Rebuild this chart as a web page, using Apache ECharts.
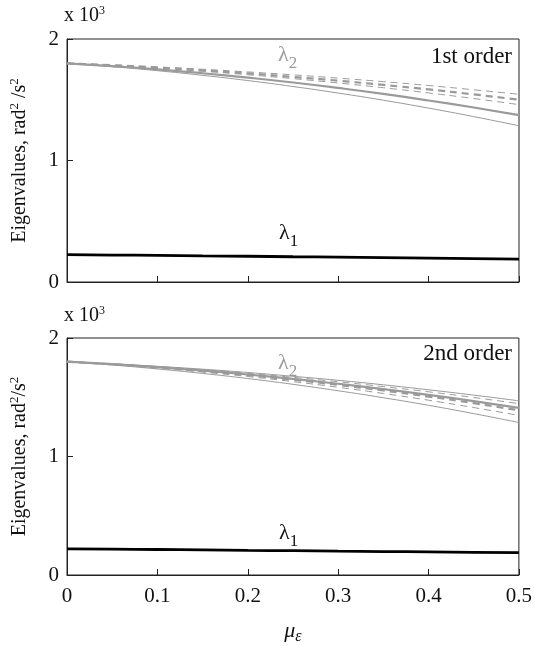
<!DOCTYPE html>
<html><head><meta charset="utf-8">
<script src="https://cdn.jsdelivr.net/npm/echarts@6/dist/echarts.min.js"></script>
<style>html,body{margin:0;padding:0;background:#fff}#c{width:535px;height:646px}</style>
</head><body><div id="c"></div>
<script>
// x values (mu_epsilon)
var mu = [0, 0.05, 0.1, 0.15, 0.2, 0.25, 0.3, 0.35, 0.4, 0.45, 0.5];
var xTicks = [0, 0.1, 0.2, 0.3, 0.4, 0.5];
var yTicks = [0, 1, 2]; // x 10^3

// 1st order panel (values in 10^3 rad^2/s^2)
var top_l2_thinDashA  = [1.80, 1.786, 1.770, 1.751, 1.729, 1.705, 1.678, 1.649, 1.617, 1.582, 1.545];
var top_l2_thickDash  = [1.80, 1.784, 1.765, 1.742, 1.717, 1.688, 1.657, 1.622, 1.585, 1.544, 1.500];
var top_l2_thinDashB  = [1.80, 1.782, 1.760, 1.735, 1.706, 1.674, 1.638, 1.599, 1.556, 1.510, 1.460];
var top_l2_thickSolid = [1.80, 1.777, 1.750, 1.718, 1.682, 1.642, 1.597, 1.548, 1.494, 1.436, 1.374];
var top_l2_thinSolid  = [1.80, 1.772, 1.739, 1.701, 1.658, 1.609, 1.555, 1.496, 1.431, 1.361, 1.286];
var top_l1            = [0.225, 0.222, 0.219, 0.215, 0.212, 0.208, 0.205, 0.201, 0.197, 0.193, 0.189];

// 2nd order panel
var bot_l2_thinSolidA = [1.80, 1.782, 1.761, 1.737, 1.709, 1.677, 1.643, 1.605, 1.563, 1.518, 1.470];
var bot_l2_thinDashA  = [1.80, 1.781, 1.758, 1.732, 1.702, 1.668, 1.631, 1.590, 1.546, 1.498, 1.446];
var bot_l2_thickSolid = [1.80, 1.779, 1.754, 1.725, 1.692, 1.655, 1.614, 1.569, 1.520, 1.467, 1.410];
var bot_l2_thickDash  = [1.80, 1.778, 1.752, 1.721, 1.686, 1.648, 1.604, 1.557, 1.506, 1.450, 1.390];
var bot_l2_thinDashB  = [1.80, 1.776, 1.747, 1.713, 1.675, 1.632, 1.584, 1.532, 1.475, 1.413, 1.347];
var bot_l2_thinSolidB = [1.80, 1.772, 1.739, 1.701, 1.658, 1.609, 1.555, 1.496, 1.432, 1.362, 1.287];
var bot_l1            = [0.221, 0.218, 0.215, 0.212, 0.208, 0.205, 0.201, 0.198, 0.195, 0.191, 0.188];

var FONT = 'Liberation Serif';
var GRAY = '#9a9a9a';

function pairs(ys){ return mu.map(function(x,i){return [x, ys[i]];}); }
function line(idx, ys, color, width, type){
  return {type:'line', xAxisIndex:idx, yAxisIndex:idx, data:pairs(ys), smooth:true,
    showSymbol:false, symbol:'none', silent:true,
    lineStyle:{color:color, width:width, type:type}};
}
function xAxis(idx, showLabels){
  return {type:'value', gridIndex:idx, min:0, max:0.5, interval:0.1,
    axisLine:{lineStyle:{color:'#222', width:1}},
    axisTick:{inside:true, length:6, lineStyle:{color:'#222'}},
    splitLine:{show:false},
    axisLabel:{show:showLabels, color:'#111', fontFamily:FONT, fontSize:21, margin:11,
      formatter:function(v){return xTicks.indexOf(Math.round(v*10)/10)>=0 ? String(Math.round(v*10)/10) : '';}},
    name: showLabels ? '{m|μ}{s|ε}' : '', nameLocation:'middle', nameGap:42,
    nameTextStyle:{rich:{m:{fontFamily:FONT, fontSize:22, fontStyle:'italic', color:'#111'},
                        s:{fontFamily:FONT, fontSize:16, fontStyle:'italic', color:'#111', padding:[12,0,0,0]}}}
  };
}
function yAxis(idx){
  return {type:'value', gridIndex:idx, min:0, max:2, interval:1,
    axisLine:{show:true, lineStyle:{color:'#222', width:1}},
    axisTick:{inside:true, length:6, lineStyle:{color:'#222'}},
    splitLine:{show:false},
    axisLabel:{color:'#111', fontFamily:FONT, fontSize:21, margin:8,
      formatter:function(v){return yTicks.indexOf(v)>=0 ? String(v) : '';}},
    name:'Eigenvalues, rad{sup|2}' + (idx===0?' ':'') + '/s{sup|2}', nameLocation:'middle', nameGap:36,
    nameTextStyle:{fontFamily:FONT, fontSize:20, color:'#111',
      rich:{sup:{fontFamily:FONT, fontSize:13, color:'#111', padding:[0,0,10,0]}}}
  };
}

var chart = echarts.init(document.getElementById('c'), null, {renderer:'canvas'});
chart.setOption({
  animation:false,
  backgroundColor:'#fff',
  grid:[
    {left:60, top:39, width:459, height:243, show:true, borderColor:'#222', borderWidth:1, backgroundColor:'transparent'},
    {left:60, top:338, width:459, height:242, show:true, borderColor:'#222', borderWidth:1, backgroundColor:'transparent'}
  ],
  xAxis:[xAxis(0,false), xAxis(1,true)],
  yAxis:[yAxis(0), yAxis(1)],
  series:[
    line(0, top_l2_thinDashA, GRAY, 1, [7,5]),
    line(0, top_l2_thickDash, GRAY, 2.2, [7,5]),
    line(0, top_l2_thinDashB, GRAY, 1, [7,5]),
    line(0, top_l2_thickSolid, GRAY, 2.2, 'solid'),
    line(0, top_l2_thinSolid, GRAY, 1, 'solid'),
    line(0, top_l1, '#000', 2.8, 'solid'),
    line(1, bot_l2_thinSolidA, GRAY, 1, 'solid'),
    line(1, bot_l2_thinDashA, GRAY, 1, [7,5]),
    line(1, bot_l2_thickSolid, GRAY, 2.2, 'solid'),
    line(1, bot_l2_thickDash, GRAY, 2.2, [7,5]),
    line(1, bot_l2_thinDashB, GRAY, 1, [7,5]),
    line(1, bot_l2_thinSolidB, GRAY, 1, 'solid'),
    line(1, bot_l1, '#000', 2.8, 'solid')
  ],
  graphic:[
    {type:'text', left:64, top:5, style:{text:'x 10{s|3}', font:'20px "Liberation Serif"', fill:'#111',
      rich:{s:{fontSize:12, fontFamily:FONT, padding:[0,0,9,0], fill:'#111'}}}},
    {type:'text', left:64, top:305, style:{text:'x 10{s|3}', font:'20px "Liberation Serif"', fill:'#111',
      rich:{s:{fontSize:12, fontFamily:FONT, padding:[0,0,9,0], fill:'#111'}}}},
    {type:'text', right:23, top:45, style:{text:'1st order', font:'23px "Liberation Serif"', fill:'#111'}},
    {type:'text', right:23, top:342, style:{text:'2nd order', font:'23px "Liberation Serif"', fill:'#111'}},
    {type:'text', left:278, top:44, style:{text:'λ{s|2}', font:'22px "Liberation Serif"', fill:GRAY,
      rich:{s:{fontSize:17, fontFamily:FONT, fill:GRAY, padding:[18,0,0,0]}}}},
    {type:'text', left:278, top:352, style:{text:'λ{s|2}', font:'22px "Liberation Serif"', fill:GRAY,
      rich:{s:{fontSize:17, fontFamily:FONT, fill:GRAY, padding:[18,0,0,0]}}}},
    {type:'text', left:279, top:222, style:{text:'λ{s|1}', font:'22px "Liberation Serif"', fill:'#111',
      rich:{s:{fontSize:17, fontFamily:FONT, fill:'#111', padding:[18,0,0,0]}}}},
    {type:'text', left:279, top:522, style:{text:'λ{s|1}', font:'22px "Liberation Serif"', fill:'#111',
      rich:{s:{fontSize:17, fontFamily:FONT, fill:'#111', padding:[18,0,0,0]}}}}
  ]
});
</script></body></html>
